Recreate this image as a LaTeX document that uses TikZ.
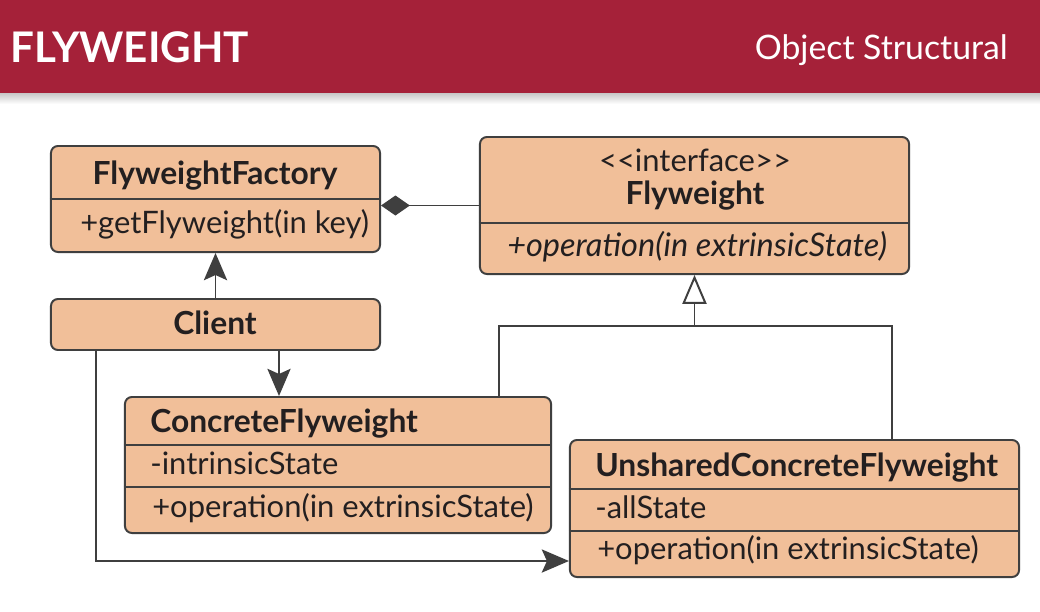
\documentclass[tikz,border=0pt]{standalone}
\usepackage{fontspec}
\setmainfont{Lato}
\usepackage{tikz}
\usetikzlibrary{arrows.meta,calc,positioning}
\definecolor{flyred}{HTML}{A52139}
\definecolor{flyfill}{HTML}{F1BF99}
\definecolor{flyline}{HTML}{3F3F3F}
\definecolor{flytext}{HTML}{231F20}
\newcommand{\regfont}{\fontsize{22}{26}\selectfont}
\newcommand{\boldfont}{\fontsize{22.6}{27}\selectfont\bfseries}
\newcommand{\opfont}{\fontsize{23.1}{27}\selectfont\itshape}
\tikzset{%
	umlbox/.style   = {draw=flyline, fill=flyfill, line width=1.4pt, rounded corners=5pt, inner sep=0pt}, % class box
	divider/.style  = {draw=flyline, line width=1.4pt}, % compartment line
	member/.style   = {anchor=base west, inner sep=0pt, text=flytext, font=\regfont}, % left text
	classname/.style= {member, font=\boldfont}, % bold name
	centred/.style  = {anchor=base, inner sep=0pt, text=flytext, font=\regfont},
	headtext/.style = {inner sep=0pt, text=white},
}
\tikzset{%
	assoc/.style    = {draw=flyline, line width=1.4pt, -{Stealth[length=0.68cm, width=0.58cm, inset=0.13cm]}},
	compose/.style  = {draw=flyline, line width=1.4pt, {Diamond[length=0.72cm, width=0.5cm]}-},
	inherit/.style  = {draw=flyline, line width=1.4pt, -{Triangle[open, fill=white, length=0.72cm, width=0.6cm]}},
}

\begin{document}
\begin{tikzpicture}[x=0.025cm, y=-0.025cm]
	\useasboundingbox (0,0) rectangle (1040,612);
	\fill[white] (0,0) rectangle (1040,612);
	% header band
	\fill[flyred] (0,0) rectangle (1040,93);
	\shade[top color=black!22, bottom color=white] (0,93) rectangle (1040,104);
	\node[headtext, anchor=base west, font=\fontsize{30}{36}\selectfont\bfseries] (pattern) at (10,62) {FLYWEIGHT};
	\node[headtext, anchor=base east, font=\fontsize{24}{30}\selectfont] (kind) at (1008,59) {Object Structural};

	% class boxes
	\node[umlbox, minimum width=8.225cm, minimum height=2.65cm] (factory) at (215.5,199) {};
	\node[umlbox, minimum width=10.725cm, minimum height=3.425cm] (iface) at (694.5,205.5) {};
	\node[umlbox, minimum width=8.225cm, minimum height=1.275cm] (client) at (215.5,324.5) {};
	\node[umlbox, minimum width=10.65cm, minimum height=3.4cm] (concrete) at (338,465) {};
	\node[umlbox, minimum width=11.225cm, minimum height=3.425cm] (unshared) at (794.5,508.5) {};

	% compartments
	\draw[divider] (factory.west |- 0,199) -- (factory.east |- 0,199);
	\draw[divider] (iface.west |- 0,223) -- (iface.east |- 0,223);
	\draw[divider] (concrete.west |- 0,445) -- (concrete.east |- 0,445);
	\draw[divider] (concrete.west |- 0,487) -- (concrete.east |- 0,487);
	\draw[divider] (unshared.west |- 0,489) -- (unshared.east |- 0,489);
	\draw[divider] (unshared.west |- 0,531) -- (unshared.east |- 0,531);

	% texts
	\node[centred, font=\boldfont] (factoryname) at (215,184) {FlyweightFactory};
	\node[member] (factoryop) at (80,233) {+getFlyweight(in key)};
	\node[centred, font=\boldfont] (clientname) at (215,334) {Client};
	\node[centred] (stereo) at (695,171) {<{}<interface>{}>};
	\node[centred, font=\boldfont] (ifacename) at (695,204) {Flyweight};
	\node[member, font=\opfont] (ifaceop) at (507,256) {+operation(in extrinsicState)};
	\node[classname] (concretename) at (150,432) {ConcreteFlyweight};
	\node[member] (concretestate) at (150,474) {-intrinsicState};
	\node[member] (concreteop) at (152,517) {+operation(in extrinsicState)};
	\node[classname] (unsharedname) at (595,476) {UnsharedConcreteFlyweight};
	\node[member] (unsharedstate) at (595,518) {-allState};
	\node[member] (unsharedop) at (597,559) {+operation(in extrinsicState)};

	% relations
	\coordinate (split) at (694.5,326);
	\draw[compose] (factory.east |- iface.west) -- (iface.west);
	\draw[assoc] (client.north) -- (factory.south);
	\draw[assoc] ($(client.south)+(63.5,0)$) -- ($(concrete.north)+(-59,0)$);
	\draw[assoc] ($(client.south)+(-119.5,0)$) |- ($(unshared.south west)+(0,-17)$);
	\draw[divider] ($(concrete.north)+(161,0)$) |- (split);
	\draw[divider] ($(unshared.north)+(97.5,0)$) |- (split);
	\draw[inherit] (split) -- (iface.south);
\end{tikzpicture}
\end{document}
